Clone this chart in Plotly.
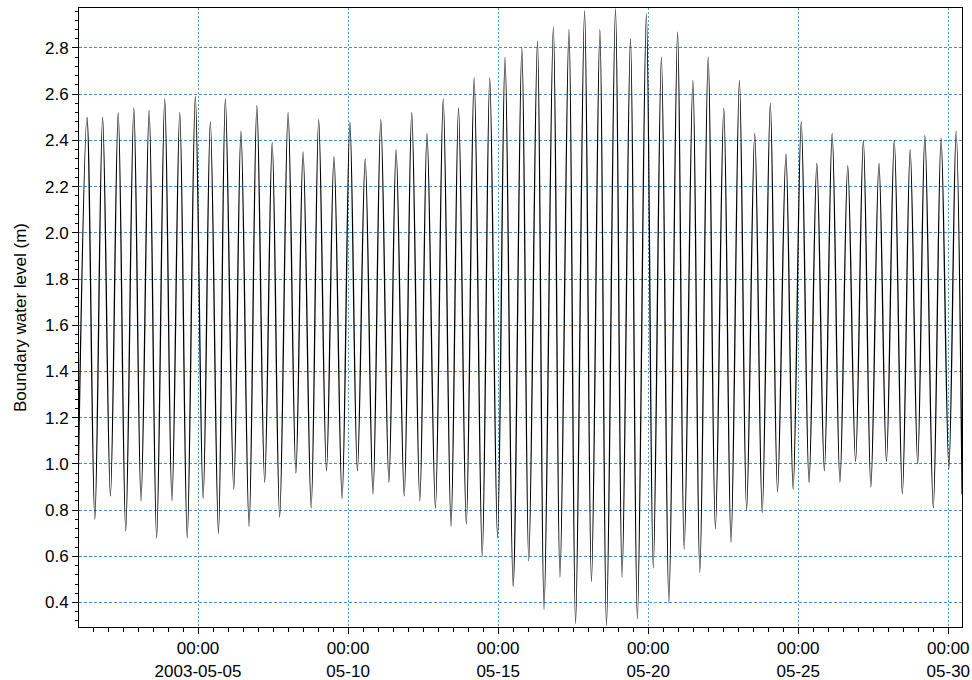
import pandas as pd
import plotly.graph_objects as go

base = pd.Timestamp("2003-05-01 00:00")

# High waters: time (days after 2003-05-01 00:00) and level (m)
high_days = [0.30, 0.82, 1.34, 1.86, 2.37, 2.89, 3.39, 3.91, 4.41, 4.91,
             5.43, 5.96, 6.47, 7.00, 7.50, 8.02, 8.53, 9.06, 9.57, 10.09,
             10.60, 11.12, 11.63, 12.17, 12.68, 13.20, 13.72, 14.23, 14.79, 15.31,
             15.84, 16.36, 16.88, 17.39, 17.91, 18.41, 18.94, 19.44, 19.98, 20.49,
             21.00, 21.52, 22.04, 22.55, 23.07, 23.59, 24.10, 24.62, 25.13, 25.65,
             26.17, 26.69, 27.20, 27.73, 28.22, 28.76, 29.26]
high_levels = [2.50, 2.50, 2.52, 2.54, 2.53, 2.58, 2.52, 2.59, 2.48, 2.58,
               2.44, 2.55, 2.39, 2.52, 2.35, 2.49, 2.33, 2.48, 2.32, 2.49,
               2.36, 2.52, 2.43, 2.58, 2.54, 2.67, 2.67, 2.76, 2.80, 2.83,
               2.89, 2.88, 2.96, 2.88, 2.97, 2.84, 2.95, 2.76, 2.87, 2.66,
               2.76, 2.54, 2.66, 2.43, 2.56, 2.34, 2.48, 2.30, 2.43, 2.29,
               2.40, 2.30, 2.40, 2.36, 2.42, 2.41, 2.44]

# Low waters
low_days = [0.00, 0.56, 1.08, 1.59, 2.10, 2.62, 3.13, 3.64, 4.17, 4.68, 5.19,
            5.70, 6.22, 6.72, 7.26, 7.77, 8.28, 8.80, 9.31, 9.83, 10.36,
            10.87, 11.39, 11.91, 12.43, 12.94, 13.47, 13.98, 14.50, 15.02, 15.53,
            16.06, 16.58, 17.11, 17.61, 18.13, 18.64, 19.17, 19.69, 20.20, 20.72,
            21.24, 21.76, 22.28, 22.80, 23.31, 23.83, 24.36, 24.87, 25.39, 25.91,
            26.42, 26.94, 27.47, 27.98, 28.50, 29.02, 29.46]
low_levels = [0.88, 0.76, 0.86, 0.71, 0.84, 0.68, 0.84, 0.68, 0.85, 0.70, 0.89,
              0.73, 0.92, 0.77, 0.96, 0.81, 0.97, 0.85, 0.97, 0.87, 0.92,
              0.86, 0.84, 0.81, 0.73, 0.74, 0.60, 0.68, 0.47, 0.58, 0.37,
              0.51, 0.31, 0.49, 0.30, 0.51, 0.33, 0.55, 0.40, 0.63, 0.53,
              0.72, 0.66, 0.80, 0.79, 0.88, 0.89, 0.92, 0.97, 0.92, 1.01,
              0.90, 1.01, 0.87, 1.00, 0.81, 0.98, 0.87]

tick_dates = ["2003-05-05", "2003-05-10", "2003-05-15", "2003-05-20", "2003-05-25", "2003-05-30"]
tick_text = ["00:00<br>2003-05-05", "00:00<br>05-10", "00:00<br>05-15",
             "00:00<br>05-20", "00:00<br>05-25", "00:00<br>05-30"]

pts = sorted(zip(high_days + low_days, high_levels + low_levels))
times = base + pd.to_timedelta([p[0] for p in pts], unit="D")
levels = [p[1] for p in pts]

fig = go.Figure()
fig.add_trace(go.Scatter(x=times, y=levels, mode="lines",
                         line=dict(color="black", width=1.3, shape="spline", smoothing=1.0),
                         showlegend=False, hoverinfo="skip"))

font_family = "Liberation Sans, Arial, sans-serif"
x_start = base + pd.Timedelta(days=0.033)
x_end = base + pd.Timedelta(days=29.457)

fig.update_layout(
    width=972, height=680,
    margin=dict(l=79, r=10, t=8, b=53),
    paper_bgcolor="white", plot_bgcolor="white",
    font=dict(family=font_family, size=17, color="black"),
    xaxis=dict(
        range=[x_start, x_end], automargin=False,
        tickmode="array", tickvals=tick_dates, ticktext=tick_text,
        ticks="outside", ticklen=6, tickcolor="black",
        showline=True, linecolor="black", linewidth=1, mirror=True,
        showgrid=True, gridcolor="#4f9ad8", gridwidth=1, griddash="2px,2px",
        zeroline=False,
        minor=dict(tickmode="linear", tick0="2003-05-01", dtick=43200000,
                   ticks="outside", ticklen=4, tickcolor="black", showgrid=False),
        tickfont=dict(size=17),
    ),
    yaxis=dict(
        range=[0.294, 2.973], automargin=False,
        tickmode="linear", tick0=0, dtick=0.2, tickformat=".1f",
        ticks="outside", ticklen=6, tickcolor="black",
        showline=True, linecolor="black", linewidth=1, mirror=True,
        showgrid=True, gridcolor="#4a8cc8", gridwidth=1, griddash="3px,2px",
        zeroline=False,
        minor=dict(dtick=0.04, ticks="outside", ticklen=3, tickcolor="black", showgrid=False),
        title=dict(text="Boundary water level (m)", font=dict(size=17), standoff=14),
        tickfont=dict(size=17),
    ),
)

fig.write_html("out.html", config={"displayModeBar": False},
               post_script="document.body.style.margin='0';document.body.style.overflow='hidden';")
